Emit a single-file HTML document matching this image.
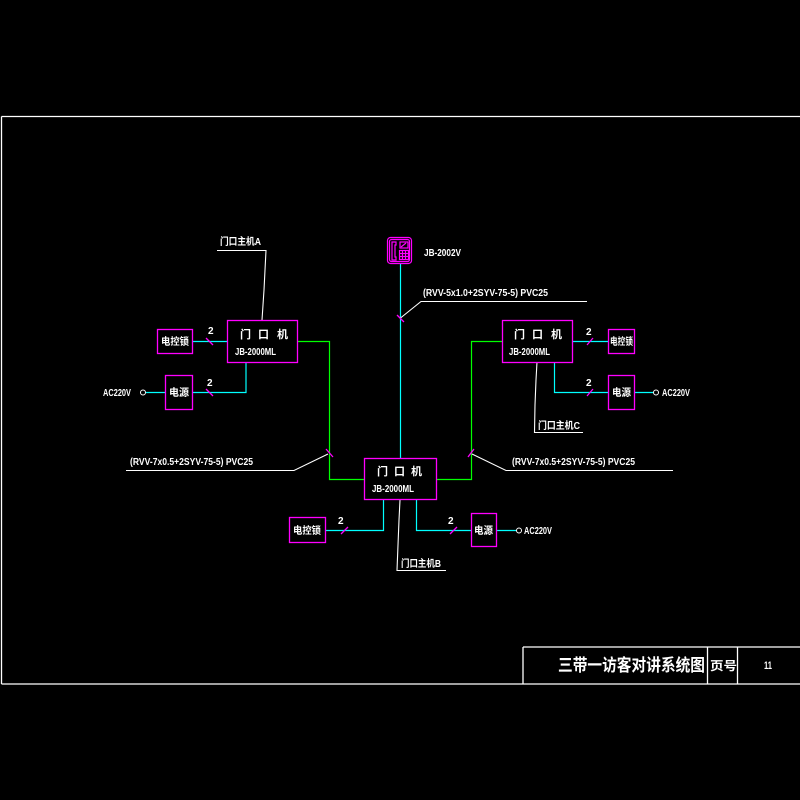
<!DOCTYPE html>
<html><head><meta charset="utf-8"><style>
html,body{margin:0;padding:0;background:#000;}
svg{display:block;}
text{font-family:"Liberation Sans","Noto Sans CJK SC",sans-serif;fill:#fff;font-weight:bold;}
</style></head><body>
<svg width="800" height="800" viewBox="0 0 800 800" xmlns="http://www.w3.org/2000/svg">
<rect width="800" height="800" fill="#000"/>
<!-- frame -->
<g stroke="#fff" stroke-width="1.3" fill="none">
<line x1="1.5" y1="116.5" x2="800" y2="116.5"/>
<line x1="1.5" y1="116.5" x2="1.5" y2="684"/>
<line x1="1.5" y1="684" x2="800" y2="684"/>
<line x1="523" y1="647" x2="800" y2="647"/>
<line x1="523" y1="647" x2="523" y2="684"/>
<line x1="707.5" y1="647" x2="707.5" y2="684"/>
<line x1="737.5" y1="647" x2="737.5" y2="684"/>
</g>
<text x="558" y="671" font-size="17" textLength="147" lengthAdjust="spacingAndGlyphs">三带一访客对讲系统图</text>
<text x="710" y="670" font-size="12" textLength="27" lengthAdjust="spacingAndGlyphs">页号</text>
<text x="764" y="669" font-size="11" textLength="8" lengthAdjust="spacingAndGlyphs">11</text>

<!-- cyan lines -->
<g stroke="#00ffff" stroke-width="1.2" fill="none">
<line x1="400.5" y1="263" x2="400.5" y2="458"/>
<line x1="192" y1="341.5" x2="227" y2="341.5"/>
<polyline points="192,392.5 246,392.5 246,362"/>
<line x1="146" y1="392.5" x2="165" y2="392.5"/>
<line x1="572" y1="341.5" x2="608" y2="341.5"/>
<polyline points="554.5,362 554.5,392.5 608,392.5"/>
<line x1="635" y1="392.5" x2="653" y2="392.5"/>
<polyline points="383.5,500 383.5,530.5 325,530.5"/>
<polyline points="416.5,500 416.5,530.5 471,530.5"/>
<line x1="497" y1="530.5" x2="516" y2="530.5"/>
</g>
<!-- green lines -->
<g stroke="#00ff00" stroke-width="1.2" fill="none">
<polyline points="297,341.5 329.5,341.5 329.5,479.5 364,479.5"/>
<polyline points="502,341.5 471.5,341.5 471.5,479.5 436,479.5"/>
</g>
<!-- white leaders -->
<g stroke="#fff" stroke-width="1.1" fill="none">
<polyline points="217,250.5 266,250.5 265,270 264,290 263,305 262,320"/>
<polyline points="400.5,318 421,301.5 587,301.5"/>
<polyline points="328,454 294,470.5 126,470.5"/>
<polyline points="472,454 506,470.5 673,470.5"/>
<polyline points="537,362 536,380 535,405 534.5,432.5 583,432.5"/>
<polyline points="400,500 399,520 398,545 397,570.5 446,570.5"/>
</g>
<!-- circles -->
<g stroke="#fff" stroke-width="1" fill="none">
<circle cx="143" cy="392.5" r="2.5"/>
<circle cx="656" cy="392.5" r="2.5"/>
<circle cx="519" cy="530.5" r="2.5"/>
</g>
<!-- magenta boxes -->
<g stroke="#ff00ff" stroke-width="1.3" fill="none">
<rect x="227.5" y="320.5" width="70" height="42"/>
<rect x="502.5" y="320.5" width="70" height="42"/>
<rect x="364.5" y="458.5" width="72" height="41"/>
<rect x="157.5" y="329.5" width="35" height="24"/>
<rect x="165.5" y="375.5" width="27" height="34"/>
<rect x="608.5" y="329.5" width="26" height="24"/>
<rect x="608.5" y="375.5" width="26" height="34"/>
<rect x="289.5" y="517.5" width="36" height="25"/>
<rect x="471.5" y="513.5" width="25" height="33"/>
<!-- ticks -->
<line x1="206" y1="338" x2="213" y2="345"/>
<line x1="206" y1="389" x2="213" y2="396"/>
<line x1="587" y1="345" x2="593" y2="338"/>
<line x1="587" y1="396" x2="593" y2="389"/>
<line x1="341" y1="534" x2="348" y2="527"/>
<line x1="450" y1="534" x2="457" y2="527"/>
<line x1="397" y1="315" x2="404" y2="322"/>
<line x1="326" y1="449" x2="333" y2="457"/>
<line x1="468" y1="457" x2="474" y2="449"/>
</g>
<!-- phone icon -->
<g stroke="#ff00ff" stroke-width="1.2" fill="none">
<rect x="387.5" y="237.5" width="24" height="26" rx="3"/>
<rect x="389.5" y="239.5" width="20" height="22" rx="2"/>
<path d="M392,242 h4 v3 h-1 v12 h1 v3 h-4 z"/>
<rect x="400" y="242" width="8" height="6"/>
<line x1="401" y1="247" x2="406" y2="243"/>
<rect x="399.5" y="250.5" width="9" height="9"/>
<line x1="402.5" y1="250.5" x2="402.5" y2="259.5"/>
<line x1="405.5" y1="250.5" x2="405.5" y2="259.5"/>
<line x1="399.5" y1="253.5" x2="408.5" y2="253.5"/>
<line x1="399.5" y1="256.5" x2="408.5" y2="256.5"/>
</g>

<!-- box texts -->
<g font-size="11">
<text x="240" y="338">门</text><text x="258" y="338">口</text><text x="277" y="338">机</text>
<text x="514" y="338">门</text><text x="532" y="338">口</text><text x="551" y="338">机</text>
<text x="377" y="475">门</text><text x="394" y="475">口</text><text x="411" y="475">机</text>
</g>
<g font-size="10">
<text x="235" y="355" textLength="41" lengthAdjust="spacingAndGlyphs">JB-2000ML</text>
<text x="509" y="355" textLength="41" lengthAdjust="spacingAndGlyphs">JB-2000ML</text>
<text x="372" y="492" textLength="42" lengthAdjust="spacingAndGlyphs">JB-2000ML</text>
<text x="424" y="256" textLength="37" lengthAdjust="spacingAndGlyphs">JB-2002V</text>
<text x="423" y="296" textLength="125" lengthAdjust="spacingAndGlyphs">(RVV-5x1.0+2SYV-75-5) PVC25</text>
<text x="130" y="465" textLength="123" lengthAdjust="spacingAndGlyphs">(RVV-7x0.5+2SYV-75-5) PVC25</text>
<text x="512" y="465" textLength="123" lengthAdjust="spacingAndGlyphs">(RVV-7x0.5+2SYV-75-5) PVC25</text>
<text x="103" y="396" textLength="28" lengthAdjust="spacingAndGlyphs">AC220V</text>
<text x="662" y="396" textLength="28" lengthAdjust="spacingAndGlyphs">AC220V</text>
<text x="524" y="534" textLength="28" lengthAdjust="spacingAndGlyphs">AC220V</text>
<text x="208" y="334">2</text>
<text x="207" y="386">2</text>
<text x="586" y="335">2</text>
<text x="586" y="386">2</text>
<text x="338" y="524">2</text>
<text x="448" y="524">2</text>
</g>
<g font-size="10">
<text x="220" y="245" textLength="41" lengthAdjust="spacingAndGlyphs">门口主机A</text>
<text x="538" y="429" textLength="42" lengthAdjust="spacingAndGlyphs">门口主机C</text>
<text x="401" y="567" textLength="40" lengthAdjust="spacingAndGlyphs">门口主机B</text>
<text x="161" y="345" textLength="28" lengthAdjust="spacingAndGlyphs">电控锁</text>
<text x="169" y="396" textLength="20" lengthAdjust="spacingAndGlyphs">电源</text>
<text x="610" y="345" textLength="23" lengthAdjust="spacingAndGlyphs">电控锁</text>
<text x="612" y="396" textLength="19" lengthAdjust="spacingAndGlyphs">电源</text>
<text x="293" y="534" textLength="28" lengthAdjust="spacingAndGlyphs">电控锁</text>
<text x="474" y="534" textLength="19" lengthAdjust="spacingAndGlyphs">电源</text>
</g>
</svg>
</body></html>
